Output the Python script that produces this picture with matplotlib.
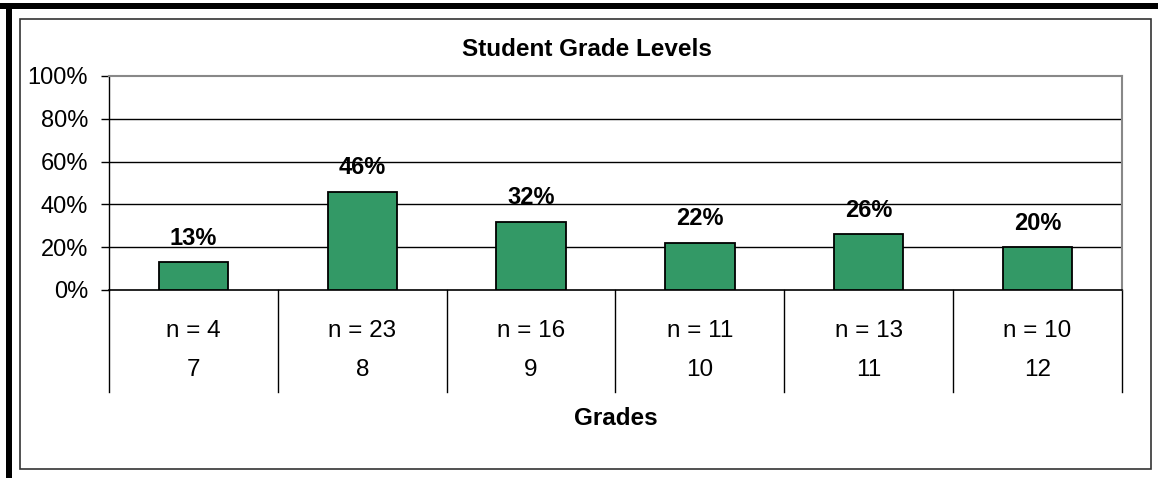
import matplotlib.pyplot as plt
from matplotlib.lines import Line2D
from matplotlib.patches import Rectangle
from matplotlib.ticker import PercentFormatter

grades = ["7", "8", "9", "10", "11", "12"]
counts = [4, 23, 16, 11, 13, 10]
percents = [13, 46, 32, 22, 26, 20]
y_ticks = [0, 20, 40, 60, 80, 100]

plt.rcParams["font.family"] = ["Liberation Sans", "DejaVu Sans"]

W, H = 1158, 478
fig = plt.figure(figsize=(W / 100, H / 100), dpi=100)


def fx(px):
    return px / W


def fy(py):
    return 1 - py / H


# heavy frame on the top and left, thin chart-area box inside it
fig.patches.append(Rectangle((fx(0), fy(9)), 1, 6 / H, transform=fig.transFigure,
                             color="black", lw=0))
fig.patches.append(Rectangle((fx(6), 0), 6 / W, fy(3), transform=fig.transFigure,
                             color="black", lw=0))
fig.patches.append(Rectangle((fx(20), fy(469)), (1151 - 20) / W, (469 - 19) / H,
                             transform=fig.transFigure, fill=False,
                             edgecolor="#333333", lw=1.2))

left, right, top, bottom = 109, 1122, 76, 290
ax = fig.add_axes([fx(left), fy(bottom), (right - left) / W, (bottom - top) / H])

x = list(range(len(grades)))
ax.bar(x, percents, width=0.41, color="#339966", edgecolor="black", linewidth=1.3,
       zorder=3)
for xi, p in zip(x, percents):
    ax.annotate(f"{p}%", (xi, p), xytext=(0, 9), textcoords="offset points",
                ha="center", va="bottom", fontsize=17, fontweight="bold", zorder=4)

ax.set_xlim(-0.5, len(grades) - 0.5)
ax.set_ylim(0, 100)
ax.set_yticks(y_ticks)
ax.yaxis.set_major_formatter(PercentFormatter(decimals=0))
ax.tick_params(axis="y", length=6, width=1, labelsize=17, pad=9)
ax.set_xticks([])
for yt in y_ticks[1:-1]:
    ax.axhline(yt, color="black", lw=1, zorder=1)

for side in ["top", "right"]:
    ax.spines[side].set_color("#888888")
    ax.spines[side].set_linewidth(1.5)
ax.spines["left"].set_linewidth(1)
ax.spines["bottom"].set_linewidth(1.2)

# category table below the axis
tr = ax.get_xaxis_transform()
for i in range(len(grades) + 1):
    ax.add_line(Line2D([i - 0.5, i - 0.5], [0, -0.477], transform=tr, color="black",
                       lw=1, clip_on=False))
for xi, g, n in zip(x, grades, counts):
    ax.text(xi, -0.19, f"n = {n}", transform=tr, ha="center", va="center", fontsize=17.5)
    ax.text(xi, -0.374, g, transform=tr, ha="center", va="center", fontsize=17.5)

ax.text(2.5, -0.6, "Grades", transform=tr, ha="center", va="center", fontsize=17.5,
        fontweight="bold")
fig.text(fx(587), fy(50), "Student Grade Levels", ha="center", va="center",
         fontsize=17.5, fontweight="bold")

fig.savefig("out.png", dpi=100)
